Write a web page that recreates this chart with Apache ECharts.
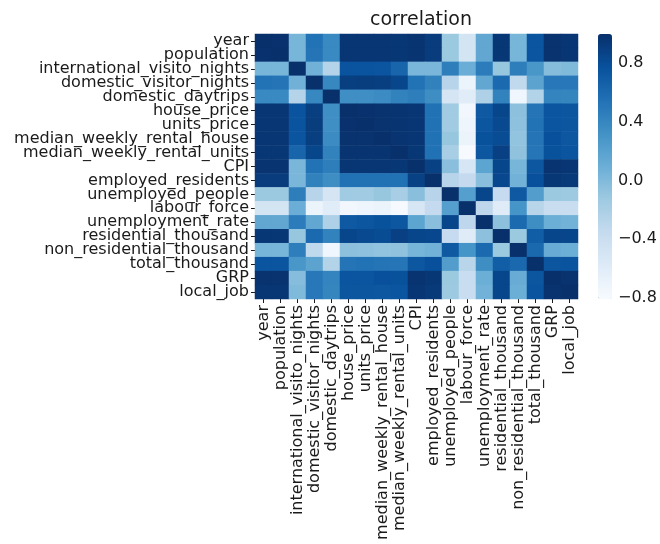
<!DOCTYPE html>
<html>
<head>
<meta charset="utf-8">
<script src="https://cdn.jsdelivr.net/npm/echarts@6/dist/echarts.min.js"></script>
<style>
  html, body { margin: 0; padding: 0; background: #fff; }
  #chart { width: 660px; height: 544px; }
</style>
</head>
<body>
<div id="chart"></div>
<script>
// Variable names, shared by both axes (top-to-bottom, left-to-right)
const variables = [
  'year', 'population', 'international_visito_nights', 'domestic_visitor_nights',
  'domestic_daytrips', 'house_price', 'units_price', 'median_weekly_rental_house',
  'median_weekly_rental_units', 'CPI', 'employed_residents', 'unemployed_people',
  'labour_force', 'unemployment_rate', 'residential_thousand', 'non_residential_thousand',
  'total_thousand', 'GRP', 'local_job'
];

// Pairwise correlation coefficients, one row per variable
const corrYear        = [1.00, 0.99, 0.04, 0.54, 0.38, 0.96, 0.96, 0.96, 0.95, 0.97, 0.92, -0.12, -0.48, 0.15, 0.95, 0.04, 0.75, 0.98, 0.96];
const corrPopulation  = [0.99, 1.00, 0.04, 0.53, 0.38, 0.96, 0.96, 0.96, 0.95, 0.97, 0.92, -0.12, -0.48, 0.15, 0.95, 0.04, 0.75, 0.98, 0.96];
const corrIntlNights  = [0.04, 0.04, 1.00, 0.07, -0.26, 0.76, 0.76, 0.75, 0.63, 0.03, 0.03, 0.46, 0.10, 0.47, -0.10, 0.46, 0.28, -0.03, 0.00];
const corrDomNights   = [0.54, 0.53, 0.07, 1.00, 0.40, 0.90, 0.91, 0.90, 0.85, 0.54, 0.44, -0.27, -0.70, 0.15, 0.60, -0.33, 0.18, 0.50, 0.50];
const corrDaytrips    = [0.38, 0.38, -0.26, 0.40, 1.00, 0.34, 0.34, 0.36, 0.43, 0.46, 0.35, -0.50, -0.60, -0.23, 0.43, -0.74, -0.25, 0.42, 0.41];
const corrHousePrice  = [0.96, 0.96, 0.76, 0.90, 0.34, 1.00, 0.99, 0.98, 0.97, 0.96, 0.55, -0.14, -0.76, 0.72, 0.85, -0.05, 0.53, 0.75, 0.74];
const corrUnitsPrice  = [0.96, 0.96, 0.76, 0.91, 0.34, 0.99, 1.00, 0.98, 0.97, 0.96, 0.55, -0.15, -0.73, 0.74, 0.83, -0.06, 0.54, 0.75, 0.74];
const corrRentHouse   = [0.96, 0.96, 0.75, 0.90, 0.36, 0.98, 0.98, 1.00, 0.97, 0.96, 0.55, -0.10, -0.70, 0.77, 0.81, -0.08, 0.53, 0.78, 0.73];
const corrRentUnits   = [0.95, 0.95, 0.63, 0.85, 0.43, 0.97, 0.97, 0.97, 1.00, 0.95, 0.55, -0.18, -0.80, 0.73, 0.89, -0.07, 0.52, 0.77, 0.75];
const corrCPI         = [0.97, 0.97, 0.03, 0.54, 0.46, 0.96, 0.96, 0.96, 0.95, 1.00, 0.88, -0.04, -0.52, 0.17, 0.85, 0.04, 0.73, 0.97, 0.96];
const corrEmployed    = [0.92, 0.92, 0.03, 0.44, 0.35, 0.55, 0.55, 0.55, 0.55, 0.88, 1.00, -0.27, -0.35, -0.04, 0.84, 0.06, 0.78, 0.95, 0.94];
const corrUnemployed  = [-0.12, -0.12, 0.46, -0.27, -0.50, -0.14, -0.15, -0.10, -0.18, -0.04, -0.27, 1.00, 0.22, 0.85, -0.36, 0.72, 0.23, -0.12, -0.13];
const corrLabourForce = [-0.48, -0.48, 0.10, -0.70, -0.60, -0.76, -0.73, -0.70, -0.80, -0.52, -0.35, 0.22, 1.00, -0.31, -0.59, 0.30, -0.28, -0.38, -0.38];
const corrUnempRate   = [0.15, 0.15, 0.47, 0.15, -0.23, 0.72, 0.74, 0.77, 0.73, 0.17, -0.04, 0.85, -0.31, 1.00, -0.05, 0.60, 0.35, 0.09, 0.06];
const corrResidential = [0.95, 0.95, -0.10, 0.60, 0.43, 0.85, 0.83, 0.81, 0.89, 0.85, 0.84, -0.36, -0.59, -0.05, 1.00, -0.12, 0.68, 0.85, 0.85];
const corrNonResident = [0.04, 0.04, 0.46, -0.33, -0.74, -0.05, -0.06, -0.08, -0.07, 0.04, 0.06, 0.72, 0.30, 0.60, -0.12, 1.00, 0.61, 0.11, 0.09];
const corrTotal       = [0.75, 0.75, 0.28, 0.18, -0.25, 0.53, 0.54, 0.53, 0.52, 0.73, 0.78, 0.23, -0.28, 0.35, 0.68, 0.61, 1.00, 0.74, 0.76];
const corrGRP         = [0.98, 0.98, -0.03, 0.50, 0.42, 0.75, 0.75, 0.78, 0.77, 0.97, 0.95, -0.12, -0.38, 0.09, 0.85, 0.11, 0.74, 1.00, 0.98];
const corrLocalJob    = [0.96, 0.96, 0.00, 0.50, 0.41, 0.74, 0.74, 0.73, 0.75, 0.96, 0.94, -0.13, -0.38, 0.06, 0.85, 0.09, 0.76, 0.98, 1.00];

const corrRows = [
  corrYear, corrPopulation, corrIntlNights, corrDomNights, corrDaytrips,
  corrHousePrice, corrUnitsPrice, corrRentHouse, corrRentUnits, corrCPI,
  corrEmployed, corrUnemployed, corrLabourForce, corrUnempRate, corrResidential,
  corrNonResident, corrTotal, corrGRP, corrLocalJob
];

// Colour scale limits and colour-bar ticks
const colorMin = -0.81;
const colorMax = 1.0;
const colorTicks = [-0.8, -0.4, 0.0, 0.4, 0.8];

// Blues colour ramp, light to dark
const blues = ['#f7fbff', '#deebf7', '#c6dbef', '#9ecae1', '#6baed6',
               '#4292c6', '#2171b5', '#08519c', '#08306b'];

const cells = [];
corrRows.forEach((row, yi) => {
  row.forEach((v, xi) => cells.push([xi, yi, v]));
});

const FONT = 'DejaVu Sans';
const TEXT = '#1a1a1a';
const LABEL_SIZE = 16;

const chart = echarts.init(document.getElementById('chart'), null, { renderer: 'canvas' });
chart.setOption({
  animation: false,
  backgroundColor: '#ffffff',
  title: {
    text: 'correlation',
    left: 416, top: 6, textAlign: 'center',
    textStyle: { fontFamily: FONT, fontSize: 19, fontWeight: 'normal', color: TEXT }
  },
  grid: [
    { left: 255, top: 34, width: 323, height: 265, containLabel: false },
    { left: 598, top: 34, width: 14, height: 265, containLabel: false }
  ],
  xAxis: [
    {
      type: 'category', data: variables, gridIndex: 0, position: 'bottom',
      axisLine: { show: false },
      axisTick: { show: true, alignWithLabel: true, length: 4, lineStyle: { color: TEXT, width: 1 } },
      axisLabel: { rotate: 90, interval: 0, margin: 6, fontFamily: FONT, fontSize: LABEL_SIZE, color: TEXT },
      splitLine: { show: false }
    },
    { type: 'value', gridIndex: 1, show: false, min: 0, max: 1 }
  ],
  yAxis: [
    {
      type: 'category', data: variables, gridIndex: 0, inverse: true,
      axisLine: { show: false },
      axisTick: { show: true, alignWithLabel: true, length: 4, lineStyle: { color: TEXT, width: 1 } },
      axisLabel: { interval: 0, margin: 6, fontFamily: FONT, fontSize: LABEL_SIZE, color: TEXT },
      splitLine: { show: false }
    },
    {
      type: 'value', gridIndex: 1, position: 'right', min: colorMin, max: colorMax,
      axisLine: { show: false },
      axisTick: { show: true, length: 4, customValues: colorTicks, lineStyle: { color: TEXT, width: 1 } },
      axisLabel: {
        customValues: colorTicks, margin: 6, fontFamily: FONT, fontSize: LABEL_SIZE, color: TEXT,
        formatter: v => (v < 0 ? '\u2212' : '') + Math.abs(v).toFixed(1)
      },
      splitLine: { show: false }
    }
  ],
  visualMap: {
    type: 'continuous', seriesIndex: 0, min: colorMin, max: colorMax,
    orient: 'vertical', left: 598, top: 34, itemWidth: 14, itemHeight: 265,
    padding: 0, calculable: false, text: null, showLabel: false,
    inRange: { color: blues }
  },
  series: [
    {
      type: 'heatmap', xAxisIndex: 0, yAxisIndex: 0, data: cells,
      itemStyle: { borderWidth: 0 },
      emphasis: { disabled: true }
    },
    {
      type: 'scatter', xAxisIndex: 1, yAxisIndex: 1, data: [], silent: true
    }
  ]
});
</script>
</body>
</html>
